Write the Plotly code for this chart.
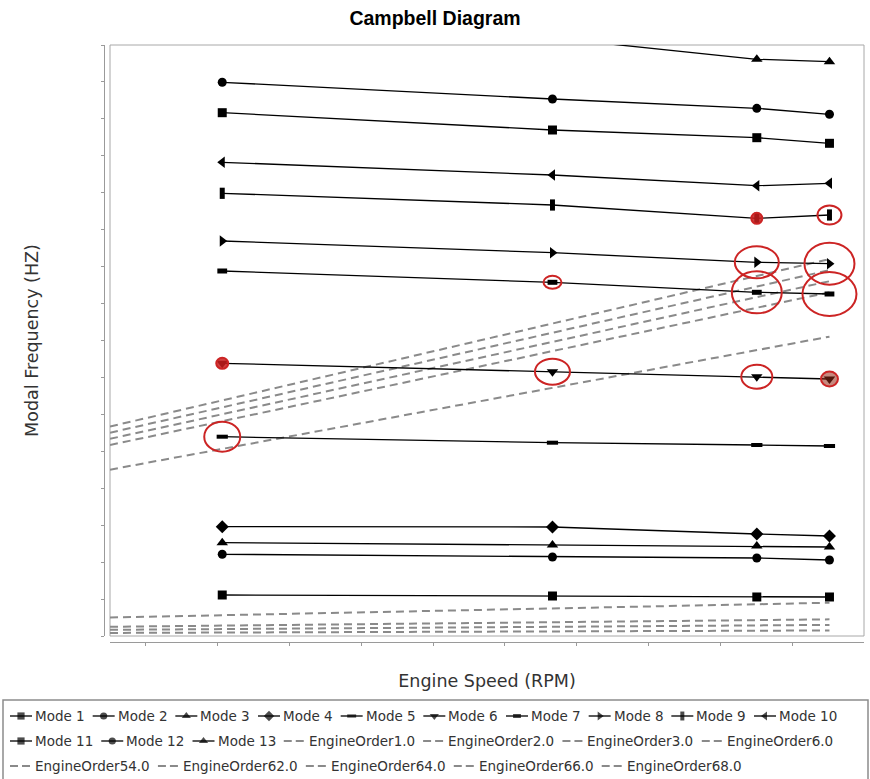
import plotly.graph_objects as go

# ---------------------------------------------------------------- data
# engine speeds at which the modal analysis was solved (RPM)
rpm = [14070, 18660, 21500, 22510]
# engine speed range shown on the horizontal axis (RPM)
rpm_axis = [12510, 22990]
# modal frequency range on the vertical axis (Hz)
hz_axis = [0, 40000]

mode_names = ["Mode 1", "Mode 2", "Mode 3", "Mode 4", "Mode 5", "Mode 6", "Mode 7",
              "Mode 8", "Mode 9", "Mode 10", "Mode 11", "Mode 12", "Mode 13"]

mode_1_hz = [2775, 2707, 2640, 2640]
mode_2_hz = [5530, 5347, 5279, 5144]
mode_3_hz = [6315, 6159, 6091, 6024]
mode_4_hz = [7398, 7377, 6904, 6768]
mode_5_hz = [13489, 13083, 12927, 12860]
mode_6_hz = [18457, 17888, 17550, 17394]
mode_7_hz = [24704, 23939, 23262, 23147]
mode_8_hz = [26734, 25943, 25293, 25198]
mode_9_hz = [29963, 29171, 28271, 28494]
mode_10_hz = [32061, 31201, 30477, 30640]
mode_11_hz = [35418, 34247, 33726, 33347]
mode_12_hz = [37476, 36345, 35715, 35310]
mode_13_hz = [41830, 40474, 39032, 38870]

mode_hz = [mode_1_hz, mode_2_hz, mode_3_hz, mode_4_hz, mode_5_hz, mode_6_hz, mode_7_hz,
           mode_8_hz, mode_9_hz, mode_10_hz, mode_11_hz, mode_12_hz, mode_13_hz]

# excitation orders drawn as rays from the origin: f = order * rpm / 60
engine_orders = [1.0, 2.0, 3.0, 6.0, 54.0, 62.0, 64.0, 66.0, 68.0]
eo_names = ["EngineOrder%.1f" % eo for eo in engine_orders]

# potential resonances: (mode index, speed index, marker style)
resonances = [
    (4, 0, "ring"), (5, 0, "dot"), (5, 1, "ring"), (5, 2, "ring"), (5, 3, "tint"),
    (6, 1, "ring"), (6, 2, "ring"), (6, 3, "ring"), (7, 2, "ring"), (7, 3, "ring"),
    (8, 2, "dot"), (8, 3, "ring"),
]
# ring size in pixels (width, height), same order as above
resonance_px = [
    (36, 30), (12, 11), (35, 26), (31, 24), (17, 15),
    (18, 13), (50, 42), (54, 44), (44, 32), (50, 42),
    (11, 11), (24, 19),
]

# ---------------------------------------------------------------- styling
W, H = 870, 779
PLOT_L, PLOT_R, PLOT_T, PLOT_B = 110, 864, 45, 636
AXIS_GAP = 6            # axis lines are offset from the plot frame
AXIS_GREY = "#9a9a9a"
EO_GREY = "#8a8a8a"
TEXT = "#333333"
RED = "#cc2424"

# (symbol, size, stroke width for line-type symbols)
mode_style = [
    ("square", 9, 0), ("circle", 9, 0), ("triangle-up", 10, 0), ("diamond", 10, 0),
    ("line-ew", 8, 4), ("triangle-down", 10, 0), ("line-ew", 7, 5), ("triangle-right", 10, 0),
    ("line-ns", 8, 5), ("triangle-left", 10, 0), ("square", 9, 0), ("circle", 9, 0),
    ("triangle-up", 10, 0),
]

fig = go.Figure()

# engine order rays
for eo, name in zip(engine_orders, eo_names):
    xs = [rpm_axis[0], rpm[-1]]
    fig.add_trace(go.Scatter(
        x=xs, y=[eo * r / 60.0 for r in xs], name=name, mode="lines",
        line=dict(color=EO_GREY, width=2, dash="8px,5px"),
        showlegend=False, hoverinfo="skip"))

# natural frequency lines
for name, hz, (sym, size, lw) in zip(mode_names, mode_hz, mode_style):
    fig.add_trace(go.Scatter(
        x=rpm, y=hz, name=name, mode="lines+markers",
        line=dict(color="black", width=1.3),
        marker=dict(symbol=sym, size=size, color="black",
                    line=dict(color="black", width=lw)),
        showlegend=False))

# resonance highlights, anchored on the data points
shapes = []
for (mi, ri, style), (pw, ph) in zip(resonances, resonance_px):
    fill = {"ring": "rgba(0,0,0,0)", "dot": "rgba(200,30,30,0.85)",
            "tint": "rgba(150,40,20,0.55)"}[style]
    shapes.append(dict(
        type="circle", xref="x", yref="y", xsizemode="pixel", ysizemode="pixel",
        xanchor=rpm[ri], yanchor=mode_hz[mi][ri],
        x0=-pw / 2, x1=pw / 2, y0=-ph / 2, y1=ph / 2,
        line=dict(color=RED, width=2), fillcolor=fill, layer="above"))

# plot frame
shapes.append(dict(type="rect", xref="x domain", yref="y domain", x0=0, x1=1, y0=0, y1=1,
                   line=dict(color="#a8a8a8", width=1), layer="below"))

# ---------------------------------------------------------------- legend box
LEG_FONT = 13.5
GLYPH_EM = {"M": 0.863, "o": 0.612, "d": 0.635, "e": 0.615, " ": 0.318, "E": 0.632,
            "n": 0.634, "g": 0.635, "i": 0.278, "O": 0.787, "r": 0.411, ".": 0.318}


def text_px(s):
    return sum(GLYPH_EM.get(c, 0.636) for c in s) * LEG_FONT


SWATCH, TEXT_PAD, ITEM_GAP = 22, 25, 8
LEG_X0, LEG_ROW0, LEG_ROW_H, LEG_MAX_X = 10, 716, 25, 858

entries = [("mode", i, n) for i, n in enumerate(mode_names)] + \
          [("eo", i, n) for i, n in enumerate(eo_names)]
annotations = []
cx, row = LEG_X0, 0
for kind, idx, label in entries:
    w = TEXT_PAD + text_px(label)
    if cx + w > LEG_MAX_X:
        cx, row = LEG_X0, row + 1
    ry = LEG_ROW0 + row * LEG_ROW_H
    if kind == "mode":
        sym, size, lw = mode_style[idx]
        fig.add_trace(go.Scatter(
            x=[cx, cx + SWATCH / 2, cx + SWATCH], y=[ry] * 3, xaxis="x2", yaxis="y2",
            mode="lines+markers", line=dict(color="black", width=1.3),
            marker=dict(symbol=sym, size=[0, size * 0.8, 0], color="black",
                        line=dict(color="black", width=lw * 0.8)),
            showlegend=False, hoverinfo="skip"))
    else:
        fig.add_trace(go.Scatter(
            x=[cx, cx + SWATCH], y=[ry] * 2, xaxis="x2", yaxis="y2", mode="lines",
            line=dict(color=EO_GREY, width=2, dash="8px,4px"),
            showlegend=False, hoverinfo="skip"))
    annotations.append(dict(
        x=cx + TEXT_PAD - 2, y=ry, xref="x2", yref="y2", text=label, showarrow=False,
        xanchor="left", yanchor="middle",
        font=dict(family="DejaVu Sans", size=LEG_FONT, color=TEXT)))
    cx += w + ITEM_GAP

shapes.append(dict(type="rect", xref="x2", yref="y2", x0=3, x1=868, y0=700, y1=792,
                   line=dict(color="#8c8c8c", width=1.5)))

axis_font = dict(family="DejaVu Sans", size=17.5, color=TEXT)

fig.update_layout(
    width=W, height=H, margin=dict(l=0, r=0, t=0, b=0),
    paper_bgcolor="white", plot_bgcolor="rgba(0,0,0,0)",
    showlegend=False,
    title=dict(text="Campbell Diagram", x=0.5, xanchor="center", xref="paper",
               y=1 - 18 / H, yanchor="middle", yref="container",
               font=dict(family="Liberation Sans", size=19.5, color="black", weight="bold")),
    xaxis=dict(
        domain=[PLOT_L / W, PLOT_R / W], range=rpm_axis, anchor="free",
        position=(H - PLOT_B - AXIS_GAP) / H,
        showline=True, linecolor=AXIS_GREY, linewidth=1,
        ticks="outside", ticklen=3, tickcolor=AXIS_GREY, tick0=0, dtick=1000,
        showticklabels=False, showgrid=False, zeroline=False,
        title=dict(text="Engine Speed (RPM)", font=axis_font, standoff=29)),
    yaxis=dict(
        domain=[(H - PLOT_B) / H, (H - PLOT_T) / H], range=hz_axis, anchor="free",
        position=(PLOT_L - AXIS_GAP) / W,
        showline=True, linecolor=AXIS_GREY, linewidth=1,
        ticks="outside", ticklen=3, tickcolor=AXIS_GREY, tick0=0, dtick=2500,
        showticklabels=False, showgrid=False, zeroline=False,
        title=dict(text="Modal Frequency (HZ)", font=axis_font, standoff=56)),
    xaxis2=dict(domain=[0, 1], range=[0, W], anchor="y2", visible=False, fixedrange=True),
    yaxis2=dict(domain=[0, 1], range=[H, 0], anchor="x2", visible=False, fixedrange=True),
    shapes=shapes, annotations=annotations,
)

fig.write_html("out.html")
